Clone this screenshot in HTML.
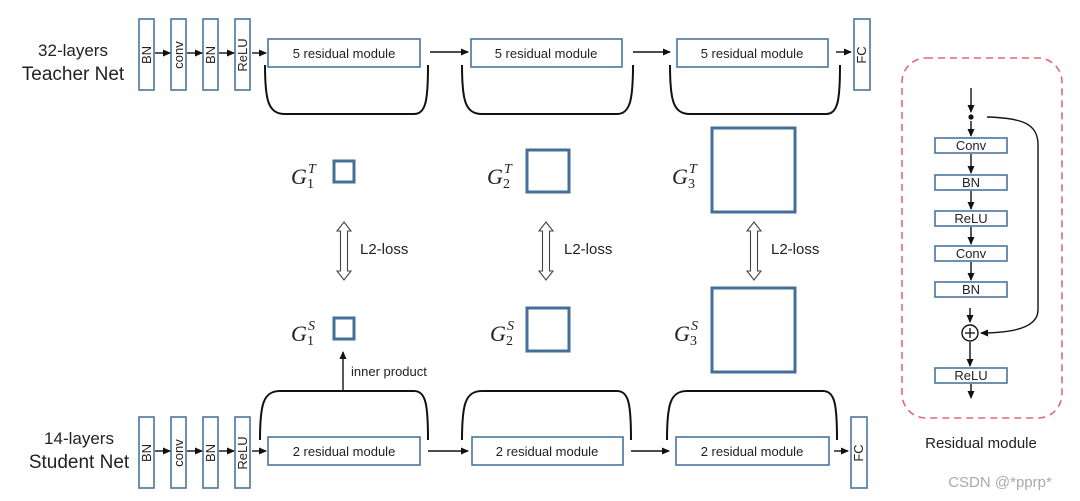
<!DOCTYPE html>
<html><head><meta charset="utf-8"><style>
html,body{margin:0;padding:0;background:#fff;}
svg{display:block;}
text{font-family:"Liberation Sans",sans-serif;fill:#222;}
.b{fill:#fff;stroke:#4a74a0;stroke-width:1.6;}
.g{fill:none;stroke:#456e98;stroke-width:3;}
.br{fill:none;stroke:#111;stroke-width:2;}
.ln{stroke:#111;stroke-width:1.4;fill:none;}
.m{font-family:"Liberation Serif",serif;font-style:italic;font-size:22px;}
.ms{font-family:"Liberation Serif",serif;font-style:italic;font-size:14px;}
.mn{font-family:"Liberation Serif",serif;font-size:14px;}
</style></head><body>
<svg width="1080" height="501" viewBox="0 0 1080 501" xmlns="http://www.w3.org/2000/svg">
<defs>
<marker id="a" markerWidth="8" markerHeight="8" refX="7" refY="4" orient="auto" markerUnits="userSpaceOnUse"><path d="M0,0.5 L8,4 L0,7.5 z" fill="#111"/></marker>
</defs>
<!-- Teacher -->
<text x="73" y="56" font-size="17" text-anchor="middle">32-layers</text>
<text x="73" y="80" font-size="19" text-anchor="middle">Teacher Net</text>
<g>
<rect class="b" x="139" y="19" width="15" height="71"/>
<rect class="b" x="171" y="19" width="15" height="71"/>
<rect class="b" x="203" y="19" width="15" height="71"/>
<rect class="b" x="235" y="19" width="15" height="71"/>
<text transform="translate(151,55) rotate(-90)" font-size="13" text-anchor="middle">BN</text>
<text transform="translate(183,55) rotate(-90)" font-size="13" text-anchor="middle">conv</text>
<text transform="translate(215,55) rotate(-90)" font-size="13" text-anchor="middle">BN</text>
<text transform="translate(247,55) rotate(-90)" font-size="13" text-anchor="middle">ReLU</text>
<line class="ln" x1="155" y1="53" x2="170" y2="53" marker-end="url(#a)"/>
<line class="ln" x1="187" y1="53" x2="202" y2="53" marker-end="url(#a)"/>
<line class="ln" x1="219" y1="53" x2="234" y2="53" marker-end="url(#a)"/>
<line class="ln" x1="252" y1="53" x2="266" y2="53" marker-end="url(#a)"/>
<rect class="b" x="268" y="39" width="152" height="28"/>
<rect class="b" x="471" y="39" width="151" height="28"/>
<rect class="b" x="677" y="39" width="151" height="28"/>
<text x="344" y="58" font-size="13" text-anchor="middle">5 residual module</text>
<text x="546" y="58" font-size="13" text-anchor="middle">5 residual module</text>
<text x="752" y="58" font-size="13" text-anchor="middle">5 residual module</text>
<line class="ln" x1="430" y1="52" x2="468" y2="52" marker-end="url(#a)"/>
<line class="ln" x1="633" y1="52" x2="670" y2="52" marker-end="url(#a)"/>
<line class="ln" x1="836" y1="52" x2="851" y2="52" marker-end="url(#a)"/>
<rect class="b" x="854" y="19" width="16" height="71"/>
<text transform="translate(866,55) rotate(-90)" font-size="13" text-anchor="middle">FC</text>
<path class="br" d="M265,65 C265,100 268,114 285,114 L414,114 C426,114 428,100 428,65"/>
<path class="br" d="M462,65 C462,100 465,114 482,114 L617,114 C630,114 633,100 633,65"/>
<path class="br" d="M670,65 C670,100 673,114 690,114 L826,114 C838,114 840,100 840,65"/>
</g>
<!-- Student -->
<text x="79" y="444" font-size="17" text-anchor="middle">14-layers</text>
<text x="79" y="468" font-size="19" text-anchor="middle">Student Net</text>
<g>
<rect class="b" x="139" y="417" width="15" height="71"/>
<rect class="b" x="171" y="417" width="15" height="71"/>
<rect class="b" x="203" y="417" width="15" height="71"/>
<rect class="b" x="235" y="417" width="15" height="71"/>
<text transform="translate(151,453) rotate(-90)" font-size="13" text-anchor="middle">BN</text>
<text transform="translate(183,453) rotate(-90)" font-size="13" text-anchor="middle">conv</text>
<text transform="translate(215,453) rotate(-90)" font-size="13" text-anchor="middle">BN</text>
<text transform="translate(247,453) rotate(-90)" font-size="13" text-anchor="middle">ReLU</text>
<line class="ln" x1="155" y1="451" x2="170" y2="451" marker-end="url(#a)"/>
<line class="ln" x1="187" y1="451" x2="202" y2="451" marker-end="url(#a)"/>
<line class="ln" x1="219" y1="451" x2="234" y2="451" marker-end="url(#a)"/>
<line class="ln" x1="252" y1="451" x2="266" y2="451" marker-end="url(#a)"/>
<rect class="b" x="268" y="437" width="152" height="28"/>
<rect class="b" x="472" y="437" width="151" height="28"/>
<rect class="b" x="676" y="437" width="153" height="28"/>
<text x="344" y="456" font-size="13" text-anchor="middle">2 residual module</text>
<text x="547" y="456" font-size="13" text-anchor="middle">2 residual module</text>
<text x="752" y="456" font-size="13" text-anchor="middle">2 residual module</text>
<line class="ln" x1="428" y1="451" x2="468" y2="451" marker-end="url(#a)"/>
<line class="ln" x1="631" y1="451" x2="669" y2="451" marker-end="url(#a)"/>
<line class="ln" x1="834" y1="451" x2="848" y2="451" marker-end="url(#a)"/>
<rect class="b" x="851" y="417" width="16" height="71"/>
<text transform="translate(863,453) rotate(-90)" font-size="13" text-anchor="middle">FC</text>
<path class="br" d="M260,440 C260,405 263,391 280,391 L414,391 C426,391 428,405 428,440"/>
<path class="br" d="M462,440 C462,405 465,391 482,391 L617,391 C629,391 631,405 631,440"/>
<path class="br" d="M667,440 C667,405 670,391 687,391 L823,391 C835,391 837,405 837,440"/>
<line class="ln" x1="343" y1="391" x2="343" y2="352" marker-end="url(#a)"/>
<text x="351" y="376" font-size="13">inner product</text>
</g>
<!-- Gram matrices -->
<rect class="g" x="334" y="161" width="20" height="21"/>
<rect class="g" x="527" y="150" width="42" height="42"/>
<rect class="g" x="712" y="128" width="83" height="84"/>
<rect class="g" x="334" y="318" width="20" height="21"/>
<rect class="g" x="527" y="308" width="42" height="43"/>
<rect class="g" x="712" y="288" width="83" height="84"/>
<text class="m" x="291" y="184">G</text><text class="ms" x="308" y="173">T</text><text class="mn" x="307" y="188">1</text>
<text class="m" x="487" y="184">G</text><text class="ms" x="504" y="173">T</text><text class="mn" x="503" y="188">2</text>
<text class="m" x="672" y="184">G</text><text class="ms" x="689" y="173">T</text><text class="mn" x="688" y="188">3</text>
<text class="m" x="291" y="341">G</text><text class="ms" x="308" y="330">S</text><text class="mn" x="307" y="345">1</text>
<text class="m" x="490" y="341">G</text><text class="ms" x="507" y="330">S</text><text class="mn" x="506" y="345">2</text>
<text class="m" x="674" y="341">G</text><text class="ms" x="691" y="330">S</text><text class="mn" x="690" y="345">3</text>
<g fill="#fff" stroke="#444" stroke-width="1.1">
<path d="M338,222 L345,231 L341.5,231 L341.5,271 L345,271 L338,280 L331,271 L334.5,271 L334.5,231 L331,231 Z" transform="translate(6,0)"/>
<path d="M338,222 L345,231 L341.5,231 L341.5,271 L345,271 L338,280 L331,271 L334.5,271 L334.5,231 L331,231 Z" transform="translate(208,0)"/>
<path d="M338,222 L345,231 L341.5,231 L341.5,271 L345,271 L338,280 L331,271 L334.5,271 L334.5,231 L331,231 Z" transform="translate(416,0)"/>
</g>
<text x="360" y="254" font-size="15">L2-loss</text>
<text x="564" y="254" font-size="15">L2-loss</text>
<text x="771" y="254" font-size="15">L2-loss</text>
<!-- Residual module panel -->
<rect x="902" y="58" width="160" height="360" rx="24" ry="24" fill="none" stroke="#e06a72" stroke-width="1.6" stroke-dasharray="7,5"/>
<line class="ln" x1="971" y1="88" x2="971" y2="112" marker-end="url(#a)"/>
<circle cx="971" cy="117" r="2.6" fill="#111"/>
<line class="ln" x1="971" y1="121" x2="971" y2="136" marker-end="url(#a)"/>
<rect class="b" x="935" y="138" width="72" height="15"/><text x="971" y="150" font-size="13" text-anchor="middle">Conv</text>
<line class="ln" x1="971" y1="154" x2="971" y2="173" marker-end="url(#a)"/>
<rect class="b" x="935" y="175" width="72" height="15"/><text x="971" y="187" font-size="13" text-anchor="middle">BN</text>
<line class="ln" x1="971" y1="191" x2="971" y2="209" marker-end="url(#a)"/>
<rect class="b" x="935" y="211" width="72" height="15"/><text x="971" y="223" font-size="13" text-anchor="middle">ReLU</text>
<line class="ln" x1="971" y1="227" x2="971" y2="244" marker-end="url(#a)"/>
<rect class="b" x="935" y="246" width="72" height="15"/><text x="971" y="258" font-size="13" text-anchor="middle">Conv</text>
<line class="ln" x1="971" y1="262" x2="971" y2="280" marker-end="url(#a)"/>
<rect class="b" x="935" y="282" width="72" height="15"/><text x="971" y="294" font-size="13" text-anchor="middle">BN</text>
<line class="ln" x1="970" y1="308" x2="970" y2="322" marker-end="url(#a)"/>
<circle cx="970" cy="333" r="8" fill="#fff" stroke="#111" stroke-width="1.4"/>
<line x1="965" y1="333" x2="975" y2="333" stroke="#111" stroke-width="1.3"/>
<line x1="970" y1="328" x2="970" y2="338" stroke="#111" stroke-width="1.3"/>
<path class="ln" d="M987,117 C1025,118 1038,125 1038,145 L1038,310 C1038,325 1020,333 981,333" stroke-width="1.8" marker-end="url(#a)"/>
<line class="ln" x1="970" y1="342" x2="970" y2="366" marker-end="url(#a)"/>
<rect class="b" x="935" y="368" width="72" height="15"/><text x="971" y="380" font-size="13" text-anchor="middle">ReLU</text>
<line class="ln" x1="971" y1="384" x2="971" y2="398" marker-end="url(#a)"/>
<text x="981" y="448" font-size="15" text-anchor="middle">Residual module</text>
<text x="1000" y="487" font-size="15" text-anchor="middle" style="fill:#aaa">CSDN @*pprp*</text>
</svg>
</body></html>
